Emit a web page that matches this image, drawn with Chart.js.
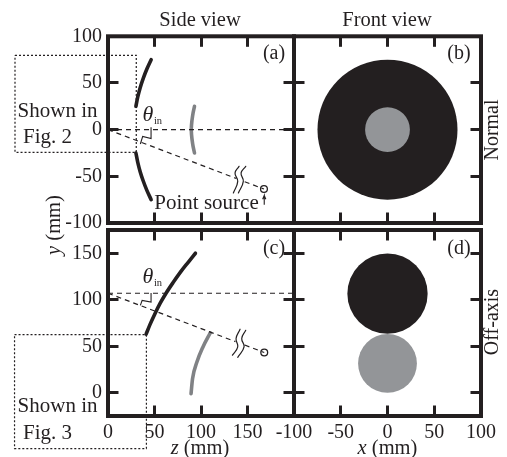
<!DOCTYPE html>
<html>
<head>
<meta charset="utf-8">
<style>
html,body{margin:0;padding:0;background:#fff;width:507px;height:457px;overflow:hidden}
canvas{position:absolute;left:0;top:0}
</style>
<script src="https://cdn.jsdelivr.net/npm/chart.js@4/dist/chart.umd.min.js"></script>
</head>
<body>
<canvas id="a" width="507" height="457"></canvas>
<canvas id="b" width="507" height="457"></canvas>
<canvas id="c" width="507" height="457"></canvas>
<canvas id="d" width="507" height="457"></canvas>
<script>
// ---- tick values and labels ----
const zTicks = [0, 50, 100, 150, 200];
const zLabels = [0, 50, 100, 150];
const xTicks = [-100, -50, 0, 50, 100];
const xLabels = [-100, -50, 0, 50, 100];
const yTicksNormal = [-100, -50, 0, 50, 100];
const yTicksOffAxis = [0, 50, 100, 150];
const noLabels = [];

// ---- panel (a), normal side view ----
const aMirrorUpperZ = [30, 32, 34.6, 37.9, 41.8, 46.4];
const aMirrorUpperY = [25, 35, 45, 55, 65, 75];
const aMirrorLowerZ = [30, 32, 34.6, 37.9, 41.8, 46.4];
const aMirrorLowerY = [-25, -35, -45, -55, -65, -75];
const aSecondaryZ = [93, 91, 89.8, 89.5, 89.8, 91, 93];
const aSecondaryY = [25, 15, 5, 0, -5, -15, -25];
const aAxisZ = [0, 200];
const aAxisY = [0, 0];
const aRayNearZ = [0, 138];
const aRayNearY = [0, -52.3];
const aRayFarZ = [147, 167.7];
const aRayFarY = [-55.8, -63.6];
const aSourceZ = [167.7];
const aSourceY = [-63.6];
const aAngleZ = [46.3, 46.3, 37.3, 34.8];
const aAngleY = [2.5, -9.6, -7.2, -15.4];
const aBreak1Z = [140.9, 136.6, 139.5, 134.8];
const aBreak1Y = [-39.3, -46.4, -55.4, -67.8];
const aBreak2Z = [148.1, 143.1, 145.5, 140.2];
const aBreak2Y = [-39.3, -46.4, -55.4, -67.8];
const aArrowZ = [168, 168, 166.3, 168, 169.7];
const aArrowY = [-80.5, -70.5, -74.5, -70.5, -74.5];
const aBoxZ = [-100, 30.4, 30.4, -100, -100];
const aBoxY = [79.6, 79.6, -24.3, -24.3, 79.6];

// ---- panel (b), normal front view ----
const bDiscX = [0, 0];
const bDiscY = [0, 0];
const bDiscRadiusMm = [75, 24];

// ---- panel (c), off-axis side view ----
const cMirrorZ = [41, 45, 50.5, 56, 62.4, 70, 77.7, 86, 94];
const cMirrorY = [63, 73, 85, 96, 107, 118.5, 129.4, 140, 150];
const cSecondaryZ = [89.3, 90.9, 95.6, 102, 110];
const cSecondaryY = [-1, 15, 33, 49, 64.5];
const cAxisZ = [0, 200];
const cAxisY = [107, 107];
const cRayNearZ = [0, 137];
const cRayNearY = [107, 55];
const cRayFarZ = [147, 168];
const cRayFarY = [51.3, 43.3];
const cSourceZ = [168];
const cSourceY = [43.3];
const cAngleZ = [46.3, 46.3, 36.7, 34.8];
const cAngleY = [107.2, 97.5, 99.3, 93.9];
const cBreak1Z = [142, 137.7, 139.5, 133.8];
const cBreak1Y = [68.3, 58.3, 49.3, 40.4];
const cBreak2Z = [148.1, 143.8, 146.3, 139.5];
const cBreak2Y = [67.2, 58.3, 49.3, 38.1];
const cBoxZ = [-100.5, 41.3, 41.3, -100.5, -100.5];
const cBoxY = [62.6, 62.6, -60, -60, 62.6];

// ---- panel (d), off-axis front view ----
const dDiscX = [0, 0];
const dDiscY = [106.5, 31.5];
const dDiscRadiusMm = [43, 31.5];

// ---- styling and layout ----
const INK = '#231f20';
const GREY = '#808285';
const DISC_GREY = '#939598';
const SERIF = '"Liberation Serif", "Times New Roman", serif';
const TICK_FONT = 20;
const PAGE_W = 507, PAGE_H = 457;
const COL = {left: [108, 294], right: [294, 481]};
const ROW = {top: [36.3, 223], bottom: [230, 416]};
const Y_AXIS_W = 60, X_AXIS_H = 30;
const PX_PER_MM = 0.9335;

const pts = (xs, ys) => xs.map((x, i) => ({x, y: ys[i]}));
const solid = (xs, ys, color, width) => ({data: pts(xs, ys), showLine: true, borderColor: color, borderWidth: width,
  pointRadius: 0, clip: false, borderCapStyle: 'round', borderJoinStyle: 'round', tension: 0.4, cubicInterpolationMode: 'monotone'});
const curve = (xs, ys, color, width) => Object.assign(solid(xs, ys, color, width), {cubicInterpolationMode: 'default', tension: 0.45});
const poly = (xs, ys, width) => Object.assign(solid(xs, ys, INK, width), {tension: 0, cubicInterpolationMode: 'default', borderCapStyle: 'butt', borderJoinStyle: 'miter'});
const dashed = (xs, ys, dash) => Object.assign(poly(xs, ys, 1.2), {borderDash: dash});
const ring = (xs, ys) => ({data: pts(xs, ys), showLine: false, pointRadius: 3.4, pointBorderWidth: 1.3,
  pointBorderColor: INK, pointBackgroundColor: '#fff', clip: false});
const discs = (xs, ys, radii, colors) => ({data: pts(xs, ys), showLine: false, pointBorderWidth: 0, clip: false,
  pointBackgroundColor: colors,
  pointRadius: radii.map(r => r * PX_PER_MM)});

const frame = {
  id: 'frame',
  afterDatasetsDraw(chart) {
    const {left, top, width, height} = chart.chartArea;
    const c = chart.ctx;
    c.save();
    c.strokeStyle = INK;
    c.lineWidth = 4;
    c.lineJoin = 'miter';
    c.strokeRect(left, top, width, height);
    c.restore();
  }
};

function axis(position, min, max, ticks, labels, hasLabels) {
  const horizontal = position === 'top' || position === 'bottom';
  return {
    type: 'linear', position, min, max, display: true,
    border: {display: false},
    grid: {drawOnChartArea: false, drawTicks: true, tickLength: -10.5, tickWidth: 3, tickColor: INK, color: INK},
    ticks: {
      display: hasLabels, autoSkip: false, maxRotation: 0, minRotation: 0, color: INK,
      font: {family: SERIF, size: TICK_FONT},
      padding: horizontal ? 15.5 : 16.5,
      callback: v => labels.includes(v) ? String(v) : ''
    },
    afterBuildTicks: s => { s.ticks = ticks.map(value => ({value})); },
    afterFit: s => {
      if (horizontal) { s.height = hasLabels ? X_AXIS_H : 0; }
      else { s.width = hasLabels ? Y_AXIS_W : 0; }
      s.paddingLeft = s.paddingRight = s.paddingTop = s.paddingBottom = 0;
    }
  };
}

function panel(id, col, row, xRange, xTickVals, xLab, yRange, yTickVals, yLab, datasets, extra) {
  const showX = row === ROW.bottom, showY = col === COL.left;
  return new Chart(document.getElementById(id), {
    type: 'scatter',
    data: {datasets},
    plugins: [frame].concat(extra || []),
    options: {
      responsive: false, animation: false, events: [],
      layout: {
        autoPadding: false,
        padding: {
          left: col[0] - (showY ? Y_AXIS_W : 0), right: PAGE_W - col[1],
          top: row[0], bottom: PAGE_H - row[1] - (showX ? X_AXIS_H : 0)
        }
      },
      plugins: {legend: {display: false}, tooltip: {enabled: false}, title: {display: false}},
      scales: {
        x: axis('bottom', xRange[0], xRange[1], xTickVals, xLab, showX),
        y: axis('left', yRange[0], yRange[1], yTickVals, yLab, showY),
        xTop: axis('top', xRange[0], xRange[1], xTickVals, noLabels, false),
        yRight: axis('right', yRange[0], yRange[1], yTickVals, noLabels, false)
      }
    }
  });
}

// ---- page text ----
const big = 20;
const note = 21;
const texts = [
  {runs: [['Side view', '']], x: 200, y: 21, size: 20.5},
  {runs: [['Front view', '']], x: 387, y: 21, size: 20.5},
  {runs: [['(a)', '']], x: 274, y: 54, size: big},
  {runs: [['(b)', '']], x: 459, y: 54, size: big},
  {runs: [['(c)', '']], x: 274, y: 249, size: big},
  {runs: [['(d)', '']], x: 459, y: 249, size: big},
  {runs: [['Shown in', '']], x: 57.5, y: 111, size: note},
  {runs: [['Fig. 2', '']], x: 47.5, y: 137, size: note},
  {runs: [['Shown in', '']], x: 57.5, y: 406, size: note},
  {runs: [['Fig. 3', '']], x: 47.5, y: 433, size: note},
  {runs: [['Point source', '']], x: 206.5, y: 203, size: note},
  {runs: [['\u03b8', 'italic']], x: 148, y: 115, size: 22},
  {runs: [['in', '']], x: 158, y: 121, size: 10.5},
  {runs: [['\u03b8', 'italic']], x: 148, y: 277, size: 22},
  {runs: [['in', '']], x: 158, y: 283, size: 10.5},
  {runs: [['y', 'italic'], [' (mm)', '']], x: 55, y: 225, size: 20.5, rot: -Math.PI / 2},
  {runs: [['z', 'italic'], [' (mm)', '']], x: 200, y: 449, size: 20.5},
  {runs: [['x', 'italic'], [' (mm)', '']], x: 387.5, y: 449, size: 20.5},
  {runs: [['Normal', '']], x: 493, y: 130, size: big, rot: -Math.PI / 2},
  {runs: [['Off-axis', '']], x: 493, y: 322, size: big, rot: -Math.PI / 2}
];
const pageText = {
  id: 'pageText',
  afterDraw(chart) {
    const c = chart.ctx;
    c.save();
    c.fillStyle = INK;
    c.textBaseline = 'middle';
    c.textAlign = 'left';
    texts.forEach(t => {
      c.save();
      c.translate(t.x, t.y);
      if (t.rot) c.rotate(t.rot);
      const fontFor = style => `${style} ${t.size}px ${SERIF}`.trim();
      let total = 0;
      t.runs.forEach(r => { c.font = fontFor(r[1]); total += c.measureText(r[0]).width; });
      let pen = -total / 2;
      t.runs.forEach(r => { c.font = fontFor(r[1]); c.fillText(r[0], pen, 0); pen += c.measureText(r[0]).width; });
      c.restore();
    });
    c.restore();
  }
};

// ---- panels ----
panel('a', COL.left, ROW.top, [0, 200], zTicks, noLabels, [-100, 100], yTicksNormal, yTicksNormal, [
  dashed(aBoxZ, aBoxY, [2, 2]),
  dashed(aAxisZ, aAxisY, [5, 4]),
  dashed(aRayNearZ, aRayNearY, [5, 4]),
  dashed(aRayFarZ, aRayFarY, [5, 4]),
  poly(aAngleZ, aAngleY, 1.1),
  curve(aBreak1Z, aBreak1Y, INK, 1.2),
  curve(aBreak2Z, aBreak2Y, INK, 1.2),
  poly(aArrowZ, aArrowY, 1.1),
  ring(aSourceZ, aSourceY),
  solid(aMirrorUpperZ, aMirrorUpperY, INK, 3.6),
  solid(aMirrorLowerZ, aMirrorLowerY, INK, 3.6),
  solid(aSecondaryZ, aSecondaryY, GREY, 3.6)
]);
panel('b', COL.right, ROW.top, [-100, 100], xTicks, noLabels, [-100, 100], yTicksNormal, noLabels, [
  discs(bDiscX, bDiscY, bDiscRadiusMm, [INK, DISC_GREY])
]);
panel('c', COL.left, ROW.bottom, [0, 200], zTicks, zLabels, [-25, 175], yTicksOffAxis, yTicksOffAxis, [
  dashed(cBoxZ, cBoxY, [2, 2]),
  dashed(cAxisZ, cAxisY, [5, 4]),
  dashed(cRayNearZ, cRayNearY, [5, 4]),
  dashed(cRayFarZ, cRayFarY, [5, 4]),
  poly(cAngleZ, cAngleY, 1.1),
  curve(cBreak1Z, cBreak1Y, INK, 1.2),
  curve(cBreak2Z, cBreak2Y, INK, 1.2),
  ring(cSourceZ, cSourceY),
  solid(cMirrorZ, cMirrorY, INK, 3.6),
  solid(cSecondaryZ, cSecondaryY, GREY, 3.6)
]);
panel('d', COL.right, ROW.bottom, [-100, 100], xTicks, xLabels, [-25, 175], yTicksOffAxis, noLabels, [
  discs(dDiscX, dDiscY, dDiscRadiusMm, [INK, DISC_GREY])
], [pageText]);
</script>
</body>
</html>
